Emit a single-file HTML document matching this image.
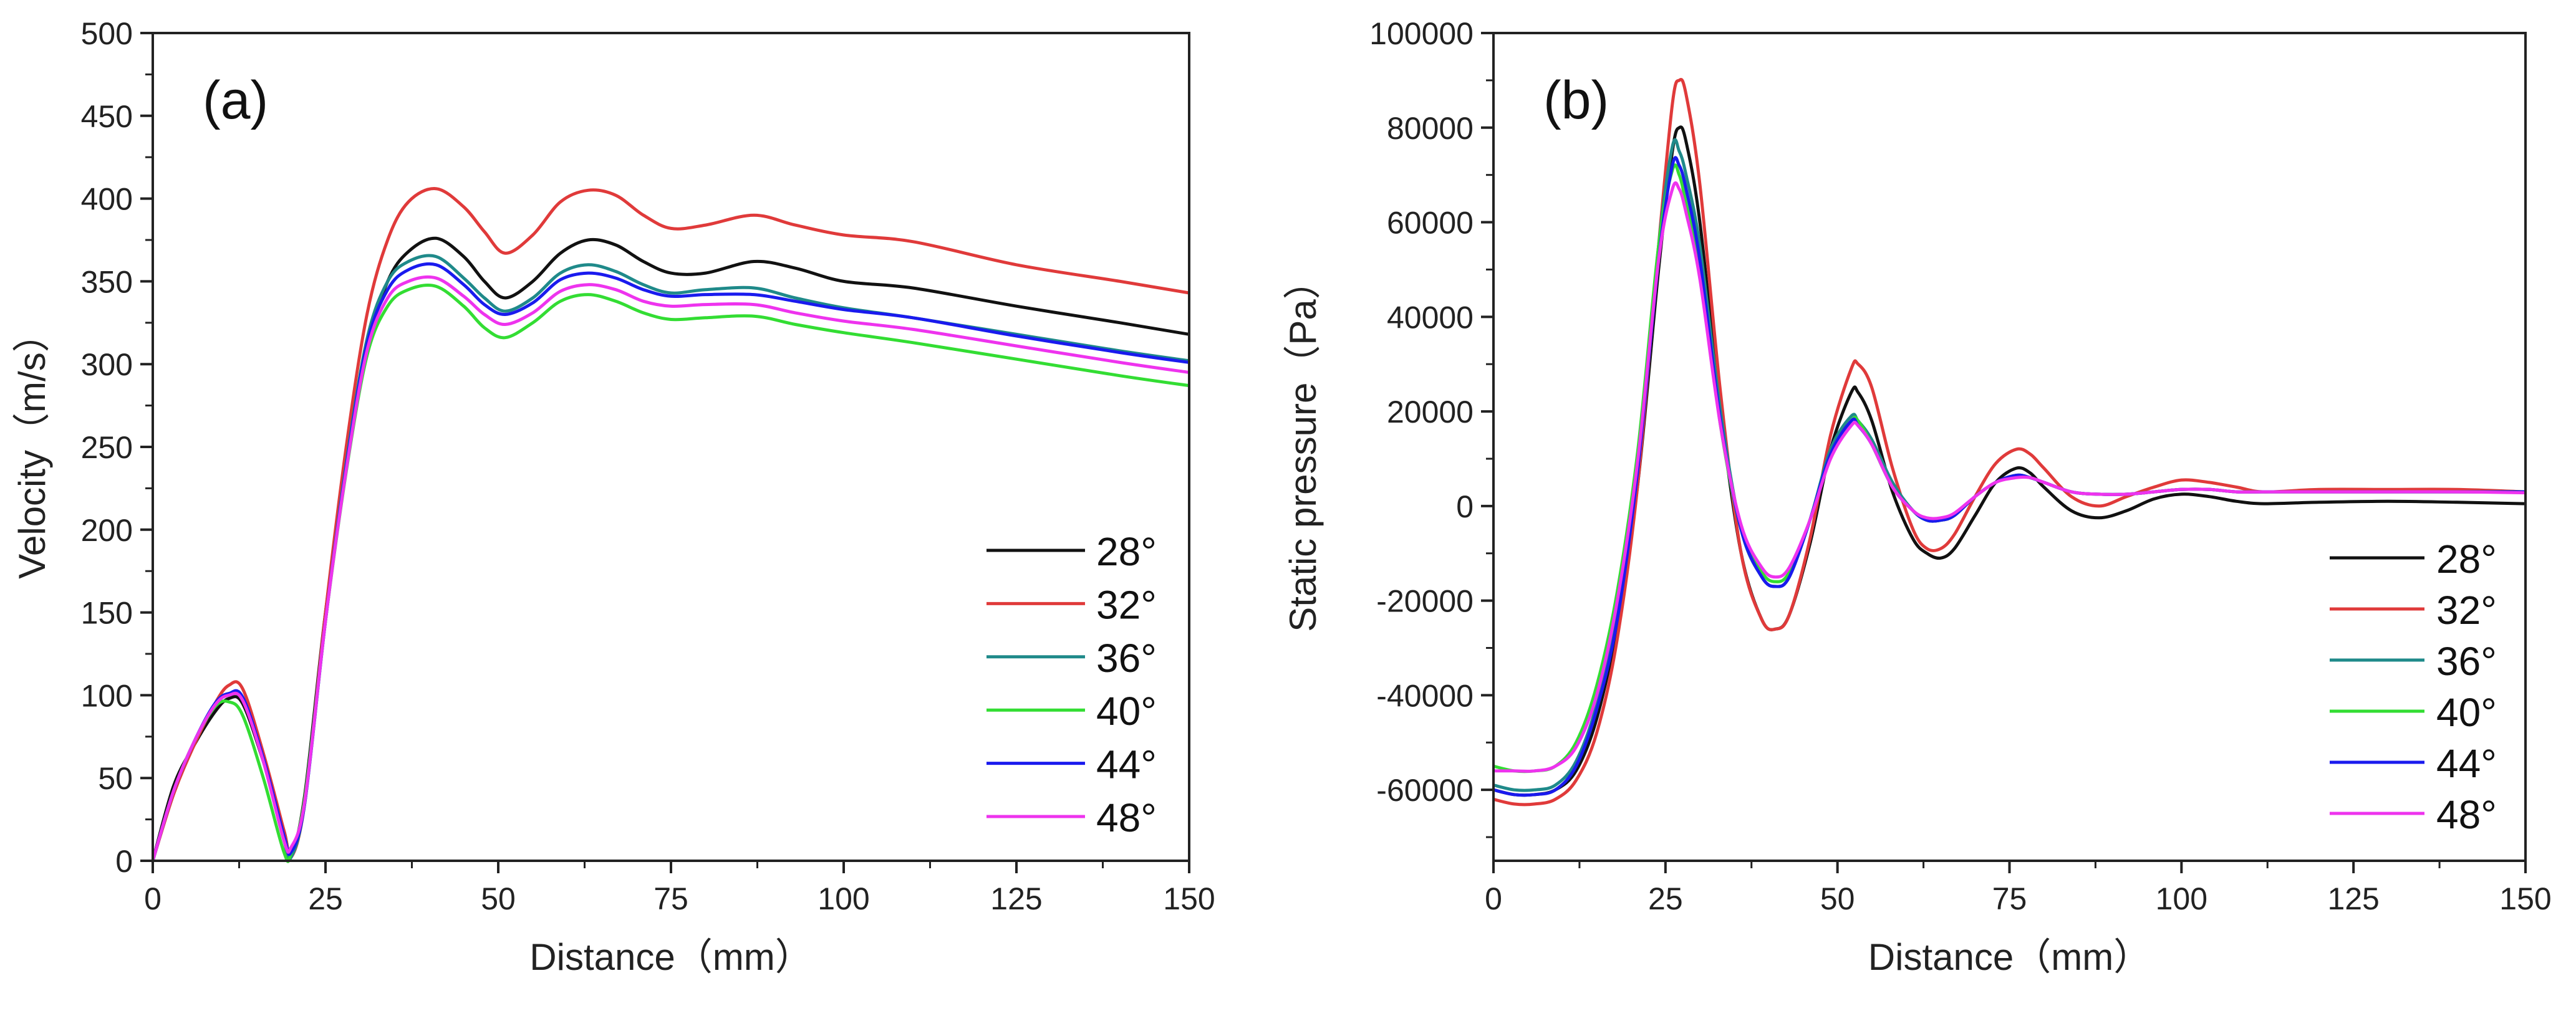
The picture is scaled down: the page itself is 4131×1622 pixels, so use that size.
<!DOCTYPE html>
<html><head><meta charset="utf-8"><style>
html,body{margin:0;padding:0;background:#fff;}
svg{display:block;font-family:"Liberation Sans",Arial,sans-serif;}
</style></head><body>
<svg id="c" width="4131" height="1622" viewBox="0 0 4131 1622" xmlns="http://www.w3.org/2000/svg"></svg>
<script>
const names=["28°","32°","36°","40°","44°","48°"];
const colors=["#111111","#e03a3a","#1f8a8a","#33dd33","#1a1aee","#ee33ee"];
// Panel (a) velocity data
const velX=[0,3,6,9,11,13,16,19,20,22,25,28,31,34,37,41,45,48,51,55,59,63,67,71,75,80,87,93,100,110,125,140,150];
const vel28=[0,45,70,90,98,95,60,18,3,40,150,240,310,350,368,376,365,350,340,350,367,375,372,362,355,355,362,358,350,346,335,325,318];
const vel32=[0,40,70,95,106,104,65,18,2,35,150,250,330,375,398,406,395,380,367,378,398,405,402,390,382,384,390,384,378,374,360,350,343];
const vel36=[0,42,72,95,101,98,60,12,2,35,145,240,315,350,362,365,352,340,332,340,355,360,356,348,343,345,346,340,334,328,318,308,302];
const vel40=[0,42,72,93,96,88,50,5,4,38,145,235,305,335,345,347,335,322,316,325,338,342,338,331,327,328,329,324,319,313,303,293,287];
const vel44=[0,42,72,95,101,99,62,15,5,35,145,238,312,345,357,360,348,336,330,337,351,355,352,345,341,342,342,338,333,328,317,307,301];
const vel48=[0,42,72,94,100,97,60,12,8,36,145,236,308,340,350,352,341,330,324,331,344,348,345,338,335,336,336,331,326,321,311,301,295];
const velSeries=[vel28,vel32,vel36,vel40,vel44,vel48];
const velTicks=[0,50,100,150,200,250,300,350,400,450,500];
const distTicks=[0,25,50,75,100,125,150];
// Panel (b) pressure data (x1000 Pa)
const prX=[0,3,6,9,12,15,18,21,24,26,27,28,30,33,36,39,41,43,46,49,52,53,55,58,61,63,65,67,70,73,76,78,80,84,88,92,96,100,104,108,112,120,130,140,150];
const pr28=[-60,-61,-61,-60,-56,-45,-25,5,50,75,80,77,60,20,-10,-24,-26,-23,-8,12,24,24,18,3,-7,-10,-11,-9,-2,5,8,7,4,-1,-2.5,-1,1.5,2.5,2,1,0.5,0.8,1,0.8,0.5];
const pr32=[-62,-63,-63,-62,-58,-48,-28,5,55,85,90,87,68,24,-10,-24,-26,-23,-7,15,29,30,25,8,-5,-9,-9,-6,2,9,12,11,8,2,0,2,4,5.5,5,4,3,3.5,3.5,3.5,3];
const pr36=[-59,-60,-60,-59,-54,-42,-22,10,55,76,75,70,55,20,-5,-15,-17,-15,-3,12,19,18,14,5,-1,-3,-3,-2,2,5,6.5,6,5,3,2.5,2.5,3,3.5,3.5,3,3,3,3,3,3];
const pr40=[-55,-56,-56,-55,-50,-38,-18,12,55,71,70,64,50,17,-5,-14,-16,-14,-3,11,18,18,13,4,-1,-3,-3,-2,2,5,6.5,6,5,3,2.5,2.5,3,3.5,3.5,3,3,3,3,3,3];
const pr44=[-60,-61,-61,-60,-55,-43,-24,8,52,72,72,67,52,18,-5,-15,-17,-15,-3,11,18,17,13,4,-1,-3,-3,-2,2,5,6.5,6,5,3,2.5,2.5,3,3.5,3.5,3,3,3,3,3,3];
const pr48=[-56,-56,-56,-55,-51,-40,-20,10,52,67,67,62,48,17,-4,-13,-15,-13,-3,10,17,17,13,4,-1,-2.5,-2.5,-1.5,2,5,6,6,5,3,2.5,2.5,3,3.5,3.5,3,3,3,3,3,2.8];
const prSeries=[pr28,pr32,pr36,pr40,pr44,pr48];
const prTicks=[-60000,-40000,-20000,0,20000,40000,60000,80000,100000];

const NS="http://www.w3.org/2000/svg";
const svg=document.getElementById('c');
function mk(tag,attrs,parent){const e=document.createElementNS(NS,tag);for(const k in attrs)e.setAttribute(k,attrs[k]);(parent||svg).appendChild(e);return e;}
function smooth(pts){let d="M"+pts[0][0].toFixed(1)+","+pts[0][1].toFixed(1);
 for(let i=0;i<pts.length-1;i++){const p0=pts[Math.max(0,i-1)],p1=pts[i],p2=pts[i+1],p3=pts[Math.min(pts.length-1,i+2)];
  const c1=[p1[0]+(p2[0]-p0[0])/6,p1[1]+(p2[1]-p0[1])/6],c2=[p2[0]-(p3[0]-p1[0])/6,p2[1]-(p3[1]-p1[1])/6];
  d+=" C"+c1[0].toFixed(1)+","+c1[1].toFixed(1)+" "+c2[0].toFixed(1)+","+c2[1].toFixed(1)+" "+p2[0].toFixed(1)+","+p2[1].toFixed(1);}
 return d;}

function panel(o){
 const g=mk('g',{});
 
 
 const X=v=>o.x0+(v-0)/150*(o.x1-o.x0);
 const Y=v=>o.yb+(v-o.ymin)/(o.ymax-o.ymin)*(o.yt-o.yb);
 const sg=mk('g',{},g);
 o.series.forEach((s,i)=>{
  const pts=o.xs.map((x,j)=>[X(x),Y(s[j]*o.mult)]);
  const p=mk('path',{d:smooth(pts),fill:'none',stroke:colors[i],'stroke-width':5,'stroke-linejoin':'round'},sg);
  
  
 });
 const fr=mk('rect',{x:o.x0,y:o.yt,width:o.x1-o.x0,height:o.yb-o.yt,fill:'none',stroke:'#222','stroke-width':4},g);
 
 
 o.yticks.forEach((t,i)=>{
  const y=Y(t);
  mk('line',{x1:o.x0-20,x2:o.x0,y1:y,y2:y,stroke:'#222','stroke-width':4},g);
  const tx=mk('text',{x:o.x0-32,y:y+18,'text-anchor':'end','font-size':50,fill:'#222'},g);
  tx.textContent=t;
  
  
  if(i<o.yticks.length-1){const ym=Y((t+o.yticks[i+1])/2);mk('line',{x1:o.x0-12,x2:o.x0,y1:ym,y2:ym,stroke:'#222','stroke-width':3},g);}
 });
 if(o.extraMinor!==undefined){const ym=Y(o.extraMinor);mk('line',{x1:o.x0-12,x2:o.x0,y1:ym,y2:ym,stroke:'#222','stroke-width':3},g);}
 distTicks.forEach((t,i)=>{
  const x=X(t);
  mk('line',{x1:x,x2:x,y1:o.yb,y2:o.yb+20,stroke:'#222','stroke-width':4},g);
  const tx=mk('text',{x:x,y:o.yb+78,'text-anchor':'middle','font-size':50,fill:'#222'},g);
  tx.textContent=t;
  
  
  if(i<distTicks.length-1){const xm=X(t+12.5);mk('line',{x1:xm,x2:xm,y1:o.yb,y2:o.yb+12,stroke:'#222','stroke-width':3},g);}
 });
 const xt=mk('text',{x:(o.x0+o.x1)/2,y:1556,'text-anchor':'middle','font-size':60,fill:'#222'},g);
 xt.textContent='Distance（mm）';
 
 
 const yt=mk('text',{x:0,y:0,'text-anchor':'middle','font-size':60,fill:'#222',transform:'translate('+o.ytx+','+((o.yt+o.yb)/2)+') rotate(-90)'},g);
 yt.textContent=o.ytitle;
 
 
 const lb=mk('text',{x:o.x0+80,y:190,'font-size':86,fill:'#111'},g);
 lb.textContent=o.label;
 
 
 const lg=mk('g',{},g);
 
 
 names.forEach((n,i)=>{
  const y=o.ly+i*o.lsp;
  const e=mk('g',{},lg);
  
  
  mk('line',{x1:o.lx,x2:o.lx2,y1:y,y2:y,stroke:colors[i],'stroke-width':5},e);
  const t=mk('text',{x:o.ltx,y:y+24,'font-size':64,fill:'#111'},e);
  t.textContent=n;
 });
}
panel({name:'velocity-chart',x0:245,x1:1907,yt:53,yb:1381,ymin:0,ymax:500,mult:1,xs:velX,series:velSeries,yticks:velTicks,ytitle:'Velocity（m/s）',ytx:72,label:'(a)',lx:1582,lx2:1740,ltx:1758,ly:883,lsp:85.4});
panel({name:'pressure-chart',x0:2395,x1:4050,yt:53,yb:1381,ymin:-75000,ymax:100000,mult:1000,xs:prX,series:prSeries,yticks:prTicks,extraMinor:-70000,ytitle:'Static pressure（Pa）',ytx:2110,label:'(b)',lx:3736,lx2:3888,ltx:3907,ly:895,lsp:82});
</script>
</body></html>
